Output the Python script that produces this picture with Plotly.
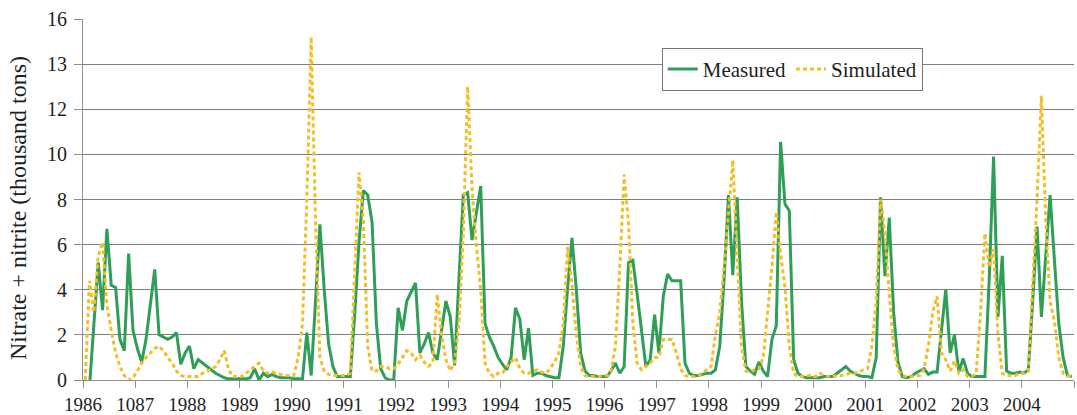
import plotly.graph_objects as go

start_year = 1986
n_years = 19

# Monthly values, Jan 1986 .. Dec 2004 (12 per row)
measured = [
    None, -0.3, 2.4, 5.2, 3.1, 6.7, 4.2, 4.1, 1.8, 1.3, 5.6, 2.2,   # 1986
    1.4, 0.8, 1.8, 3.4, 4.9, 2.0, 1.9, 1.8, 1.9, 2.1, 0.7, 1.2,     # 1987
    1.5, 0.5, 0.9, 0.75, 0.6, 0.45, 0.3, 0.2, 0.1, 0.05, 0.05, 0.05,  # 1988
    0.05, 0.05, 0.1, 0.5, 0.0, 0.3, 0.15, 0.25, 0.15, 0.1, 0.1, 0.1,  # 1989
    0.05, 0.05, 0.05, 2.1, 0.2, 3.5, 6.9, 4.0, 1.6, 0.6, 0.15, 0.15,  # 1990
    0.15, 0.15, 2.9, 6.1, 8.4, 8.2, 7.0, 2.5, 0.5, 0.1, 0.0, 0.0,     # 1991
    3.2, 2.2, 3.5, 3.9, 4.3, 1.2, 1.6, 2.1, 1.2, 0.9, 2.2, 3.5,       # 1992
    2.8, 0.65, 4.5, 8.2, 8.3, 6.2, 7.4, 8.6, 2.5, 1.9, 1.5, 1.0,      # 1993
    0.7, 0.45, 1.0, 3.2, 2.7, 0.9, 2.3, 0.2, 0.3, 0.3, 0.2, 0.15,     # 1994
    0.1, 0.1, 1.5, 4.1, 6.3, 4.0, 1.2, 0.4, 0.2, 0.2, 0.15, 0.15,     # 1995
    0.15, 0.4, 0.75, 0.3, 0.6, 5.2, 5.3, 3.8, 2.2, 0.6, 0.9, 2.9,     # 1996
    1.2, 3.7, 4.7, 4.4, 4.4, 4.4, 0.75, 0.3, 0.2, 0.2, 0.25, 0.3,     # 1997
    0.3, 0.45, 1.5, 4.5, 8.2, 4.65, 8.1, 3.5, 0.6, 0.4, 0.25, 0.8,    # 1998
    0.4, 0.15, 1.8, 2.4, 10.55, 7.8, 7.5, 0.9, 0.3, 0.15, 0.1, 0.1,   # 1999
    0.1, 0.1, 0.15, 0.15, 0.15, 0.3, 0.45, 0.6, 0.4, 0.3, 0.2, 0.15,  # 2000
    0.15, 0.1, 1.0, 8.1, 4.6, 7.2, 3.0, 0.8, 0.15, 0.1, 0.15, 0.3,    # 2001
    0.4, 0.5, 0.25, 0.35, 0.35, 2.2, 4.0, 1.2, 2.0, 0.35, 0.95, 0.3,  # 2002
    0.15, 0.15, 0.15, 0.15, 4.5, 9.9, 2.8, 5.5, 0.4, 0.3, 0.3, 0.35,  # 2003
    0.3, 0.45, 3.5, 6.8, 2.8, 5.5, 8.2, 5.3, 2.5, 1.0, 0.2, 0.15,     # 2004
]

simulated = [
    0.0, 4.4, 3.0, 5.5, 6.1, 3.3, 2.2, 1.2, 0.6, 0.2, 0.0, 0.1,       # 1986
    0.4, 0.75, 1.0, 1.2, 1.4, 1.5, 1.3, 1.0, 0.75, 0.4, 0.2, 0.15,    # 1987
    0.15, 0.15, 0.15, 0.3, 0.4, 0.45, 0.6, 0.9, 1.3, 0.45, 0.15, 0.15,  # 1988
    0.15, 0.3, 0.45, 0.6, 0.75, 0.4, 0.3, 0.35, 0.3, 0.25, 0.2, 0.2,  # 1989
    0.2, 1.0, 2.5, 8.0, 15.2, 7.0, 1.0, 0.4, 0.25, 0.2, 0.2, 0.2,     # 1990
    0.2, 0.3, 4.5, 9.2, 7.1, 1.5, 0.4, 0.4, 0.6, 0.6, 0.5, 0.5,       # 1991
    0.7, 1.0, 1.3, 1.2, 0.9, 1.1, 0.8, 0.6, 0.8, 3.8, 2.0, 0.9,       # 1992
    0.4, 0.8, 2.5, 6.5, 13.0, 8.5, 6.0, 4.0, 0.75, 0.3, 0.15, 0.3,    # 1993
    0.3, 0.6, 0.8, 1.0, 0.5, 0.3, 0.3, 0.4, 0.45, 0.35, 0.3, 0.5,     # 1994
    0.8, 1.2, 2.5, 5.9, 4.2, 2.0, 0.6, 0.2, 0.15, 0.15, 0.15, 0.2,    # 1995
    0.2, 0.4, 1.5, 5.0, 9.1, 7.0, 2.5, 0.75, 0.45, 0.6, 0.75, 1.0,    # 1996
    1.0, 1.8, 1.8, 1.8, 1.2, 0.5, 0.2, 0.15, 0.15, 0.2, 0.3, 0.45,    # 1997
    0.6, 2.0, 3.0, 5.0, 7.5, 9.75, 5.5, 1.5, 0.4, 0.35, 0.45, 0.5,    # 1998
    1.0, 3.0, 5.0, 7.45, 5.6, 4.1, 1.5, 0.3, 0.15, 0.15, 0.2, 0.2,    # 1999
    0.15, 0.3, 0.2, 0.15, 0.15, 0.2, 0.2, 0.25, 0.3, 0.3, 0.35, 0.45,  # 2000
    0.5, 1.5, 3.5, 8.0, 6.5, 3.8, 1.5, 0.45, 0.2, 0.15, 0.15, 0.2,    # 2001
    0.2, 0.5, 1.5, 3.0, 3.7, 1.2, 0.9, 0.4, 0.85, 0.3, 0.45, 0.15,    # 2002
    0.15, 0.3, 3.0, 6.5, 5.0, 5.8, 2.0, 0.3, 0.2, 0.2, 0.2, 0.3,      # 2003
    0.3, 0.4, 4.0, 8.0, 12.6, 7.0, 3.5, 2.6, 1.0, 0.3, 0.2, 0.15,     # 2004
]

x_tick_labels = ["1986", "1087", "1988", "1989", "1990", "1991", "1992", "1993",
                 "1994", "1995", "1996", "1997", "1998", "1999", "2000", "2001",
                 "2002", "2003", "2004", ""]
y_tick_vals = [0, 2, 4, 6, 8, 10, 12, 14, 16]
y_tick_labels = ["0", "2", "4", "6", "8", "10", "12", "13", "16"]
y_title = "Nitrate + nitrite (thousand tons)"

months = [start_year + (i + 0.5) / 12 for i in range(len(measured))]
year_ticks = [start_year + k for k in range(n_years + 1)]

GREEN = "#2f9e58"
YELLOW = "#f0bf2a"
GRID = "#7d7d7d"
AXIS = "#8f8f8f"
TEXT = "#1e1e1e"
FONT = "Liberation Serif"

fig = go.Figure()
fig.add_trace(go.Scatter(x=months, y=measured, mode="lines", name="Measured",
                         line=dict(color=GREEN, width=3), connectgaps=False))
fig.add_trace(go.Scatter(x=months, y=simulated, mode="lines", name="Simulated",
                         line=dict(color=YELLOW, width=3, dash="4px,3px")))

fig.update_layout(
    width=1077, height=415,
    margin=dict(l=83, r=3, t=19, b=35),
    paper_bgcolor="white", plot_bgcolor="white",
    font=dict(family=FONT, size=19, color=TEXT),
    showlegend=True,
    legend=dict(orientation="h", x=0.584, y=0.92, xanchor="left", yanchor="top",
                bgcolor="white", bordercolor="#777", borderwidth=1,
                font=dict(family=FONT, size=21, color=TEXT),
                itemwidth=30, tracegroupgap=0),
    annotations=[dict(text=y_title, textangle=-90, xref="paper", yref="paper",
                      x=-0.066, y=0.475, xanchor="center", yanchor="middle",
                      showarrow=False, font=dict(family=FONT, size=24, color=TEXT))],
)
fig.update_xaxes(
    range=[start_year, start_year + n_years], tickmode="array",
    tickvals=year_ticks, ticktext=x_tick_labels,
    showgrid=False, showline=True, linecolor=AXIS, linewidth=1,
    ticks="outside", ticklen=7, tickcolor=AXIS,
    tickfont=dict(family=FONT, size=19, color=TEXT),
    zeroline=False, automargin=False,
)
fig.update_yaxes(
    range=[0, 16], tickmode="array", tickvals=y_tick_vals, ticktext=y_tick_labels,
    showgrid=True, gridcolor=GRID, gridwidth=1,
    showline=True, linecolor=AXIS, linewidth=1,
    ticks="outside", ticklen=8, tickcolor=AXIS, ticklabelstandoff=3,
    tickfont=dict(family=FONT, size=20, color=TEXT),
    zeroline=False, automargin=False,
)

# remove the browser's default 8px page margin so the figure sits at (0, 0)
fig.write_html("out.html", config={"displayModeBar": False},
               post_script="document.body.style.margin='0';")
